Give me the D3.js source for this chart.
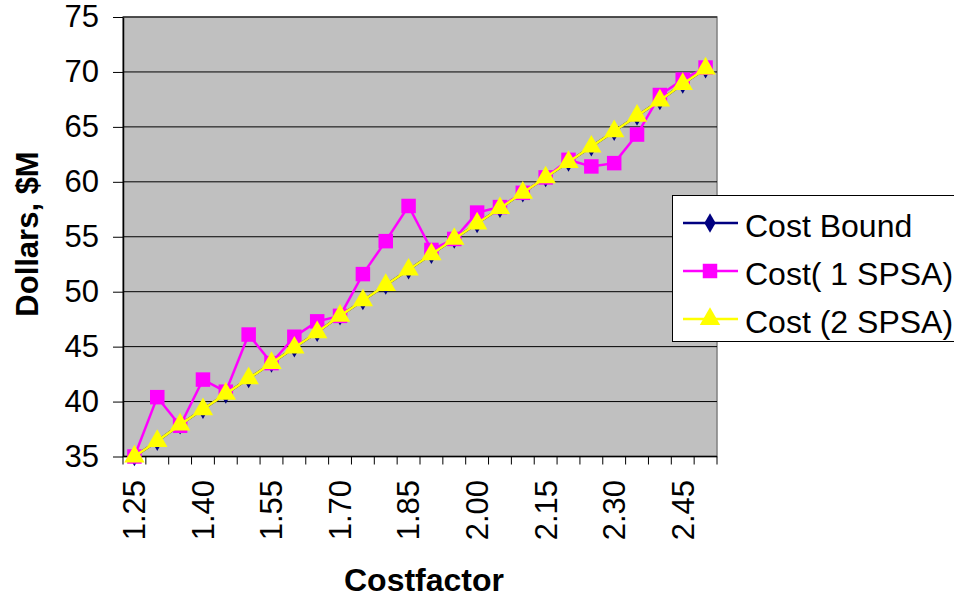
<!DOCTYPE html>
<html>
<head>
<meta charset="utf-8">
<script src="https://cdn.jsdelivr.net/npm/d3@7"></script>
<style>
  html, body { margin: 0; padding: 0; background: #ffffff; }
  svg { display: block; font-family: "Liberation Sans", Arial, sans-serif; }
</style>
</head>
<body>
<svg id="chart" width="954" height="599"></svg>
<script>
// Cost factor categories (x axis)
const categories = ["1.25","1.30","1.35","1.40","1.45","1.50","1.55","1.60","1.65","1.70",
  "1.75","1.80","1.85","1.90","1.95","2.00","2.05","2.10","2.15","2.20",
  "2.25","2.30","2.35","2.40","2.45","2.50"];

// Labelled category ticks
const xTickLabels = ["1.25","1.40","1.55","1.70","1.85","2.00","2.15","2.30","2.45"];

// Y axis ticks, $M
const yTicks = [35, 40, 45, 50, 55, 60, 65, 70, 75];

// Series values, $M
const costBound = [35.0, 36.4, 37.9, 39.3, 40.7, 42.1, 43.5, 44.9, 46.3, 47.8,
  49.2, 50.6, 52.0, 53.4, 54.8, 56.2, 57.6, 59.0, 60.4, 61.8,
  63.2, 64.6, 66.0, 67.4, 68.9, 70.3];
const cost1SPSA = [35.0, 40.4, 37.8, 42.0, 40.9, 46.1, 43.5, 45.9, 47.3, 47.8,
  51.6, 54.6, 57.8, 53.8, 54.8, 57.2, 57.7, 59.0, 60.4, 62.0,
  61.4, 61.7, 64.3, 67.9, 69.3, 70.4];
const cost2SPSA = [35.0, 36.4, 37.9, 39.3, 40.7, 42.1, 43.5, 44.9, 46.3, 47.8,
  49.2, 50.6, 52.0, 53.4, 54.8, 56.2, 57.6, 59.0, 60.4, 61.8,
  63.2, 64.6, 66.0, 67.4, 68.9, 70.3];

const seriesNames = ["Cost Bound", "Cost( 1 SPSA)", "Cost (2 SPSA)"];

const svg = d3.select("#chart");
const plot = { left: 123, right: 717, top: 17, bottom: 456.5 };

const x = d3.scaleBand().domain(categories).range([plot.left, plot.right]);
const y = d3.scaleLinear().domain([35, 75]).range([plot.bottom, plot.top]);
const cx = c => x(c) + x.bandwidth() / 2;

// Plot background
svg.append("rect")
  .attr("x", plot.left).attr("y", plot.top)
  .attr("width", plot.right - plot.left).attr("height", plot.bottom - plot.top)
  .attr("fill", "#c0c0c0")
  .attr("stroke", "#808080").attr("stroke-width", 1.5);

// Horizontal gridlines
svg.append("g").selectAll("line")
  .data(yTicks.filter(v => v > 35))
  .join("line")
  .attr("x1", plot.left).attr("x2", plot.right)
  .attr("y1", d => y(d)).attr("y2", d => y(d))
  .attr("stroke", "#000").attr("stroke-width", 1);

// Y axis
const yAxis = svg.append("g")
  .attr("transform", `translate(${plot.left},0)`)
  .call(d3.axisLeft(y).tickValues(yTicks).tickSize(10).tickPadding(14).tickSizeOuter(0));
yAxis.select(".domain").attr("stroke", "#000").attr("stroke-width", 1.5);
yAxis.selectAll(".tick line").attr("stroke", "#000");
yAxis.selectAll(".tick text")
  .attr("font-size", 31).attr("fill", "#000")
  .attr("font-family", "'Liberation Sans', Arial, sans-serif");

// X axis line and boundary ticks
svg.append("line")
  .attr("x1", plot.left).attr("x2", plot.right)
  .attr("y1", plot.bottom).attr("y2", plot.bottom)
  .attr("stroke", "#000").attr("stroke-width", 1.5);
const boundaries = categories.map(c => x(c)).concat([plot.right]);
svg.append("g").selectAll("line")
  .data(boundaries)
  .join("line")
  .attr("x1", d => d).attr("x2", d => d)
  .attr("y1", plot.bottom).attr("y2", plot.bottom + 8)
  .attr("stroke", "#000").attr("stroke-width", 1);

// X tick labels, rotated
svg.append("g").selectAll("text")
  .data(xTickLabels)
  .join("text")
  .attr("transform", d => `translate(${cx(d)},480) rotate(-90)`)
  .attr("dy", "0.35em")
  .attr("text-anchor", "end")
  .attr("font-size", 31)
  .attr("fill", "#000")
  .text(d => d);

// Axis titles
svg.append("text")
  .attr("transform", "translate(38,234) rotate(-90)")
  .attr("text-anchor", "middle")
  .attr("font-size", 31).attr("font-weight", "bold")
  .text("Dollars, $M");
svg.append("text")
  .attr("x", 424).attr("y", 591)
  .attr("text-anchor", "middle")
  .attr("font-size", 32).attr("font-weight", "bold")
  .text("Costfactor");

// Series
const line = d3.line().x((d, i) => cx(categories[i])).y(d => y(d));
const series = [
  { name: seriesNames[0], values: costBound, color: "#000080", symbol: d3.symbolDiamond, size: 110 },
  { name: seriesNames[1], values: cost1SPSA, color: "#ff00ff", symbol: d3.symbolSquare, size: 210 },
  { name: seriesNames[2], values: cost2SPSA, color: "#ffff00", symbol: d3.symbolTriangle, size: 180 }
];

series.forEach(s => {
  svg.append("path")
    .datum(s.values)
    .attr("d", line)
    .attr("fill", "none")
    .attr("stroke", s.color)
    .attr("stroke-width", 2.5);
  svg.append("g").selectAll("path")
    .data(s.values)
    .join("path")
    .attr("transform", (d, i) => `translate(${cx(categories[i])},${y(d)})`)
    .attr("d", d3.symbol().type(s.symbol).size(s.size))
    .attr("fill", s.color);
});

// Legend
const legend = svg.append("g");
legend.append("rect")
  .attr("x", 672.5).attr("y", 195.5)
  .attr("width", 300).attr("height", 146)
  .attr("fill", "#fff").attr("stroke", "#000").attr("stroke-width", 1);
series.forEach((s, i) => {
  const ly = 223 + i * 48;
  legend.append("line")
    .attr("x1", 683).attr("x2", 738).attr("y1", ly).attr("y2", ly)
    .attr("stroke", s.color).attr("stroke-width", 2.5);
  legend.append("path")
    .attr("transform", `translate(710,${ly})`)
    .attr("d", d3.symbol().type(s.symbol).size(s.size))
    .attr("fill", s.color);
  legend.append("text")
    .attr("x", 745).attr("y", ly + 14)
    .attr("font-size", 32).attr("fill", "#000")
    .text(s.name);
});
</script>
</body>
</html>
